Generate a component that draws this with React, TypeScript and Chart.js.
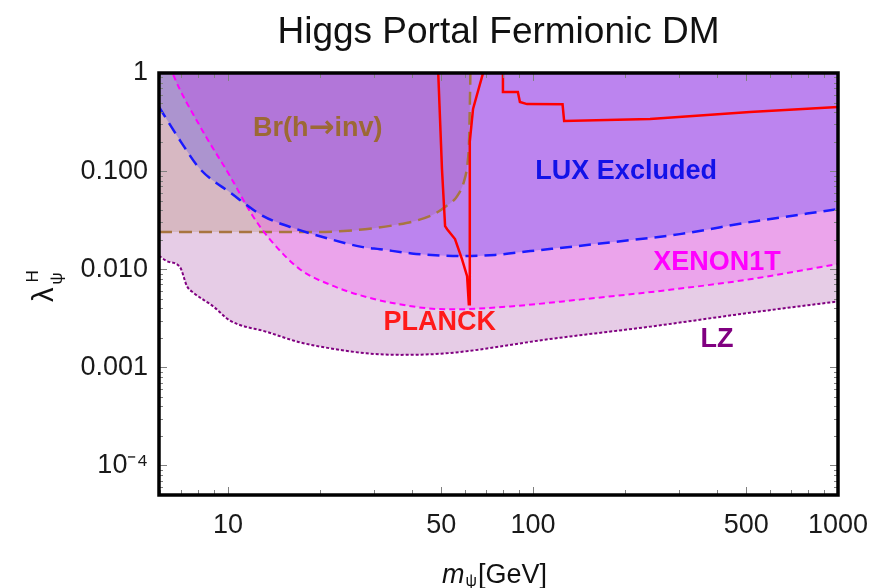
import React, { useEffect, useRef } from 'react';
import { Chart, registerables } from 'chart.js';

Chart.register(...registerables);

// ---- data ----
const luxMass = [5.94, 7, 8.1, 10.2, 13, 16.8, 21.6, 27.7, 31.5, 40, 50, 59, 75, 98, 183, 303, 514, 1000];
const luxLambda = [0.45, 0.2, 0.105, 0.06, 0.035, 0.0256, 0.0203, 0.0168, 0.016, 0.0145, 0.0138, 0.0136, 0.014, 0.0153, 0.0189, 0.0228, 0.0302, 0.041];

const xenonMass = [6.3, 6.6, 8.09, 10.15, 12.07, 13.7, 17.2, 22, 28.5, 35, 45, 55, 86, 142, 285, 514, 1000];
const xenonLambda = [1.5, 0.977, 0.287, 0.089, 0.0347, 0.0203, 0.01, 0.0068, 0.0052, 0.0045, 0.004, 0.0039, 0.0042, 0.0049, 0.0062, 0.0079, 0.0113];

const lzMass = [5.94, 6.3, 6.96, 7.34, 7.68, 8.93, 10.15, 13.4, 17.2, 22, 28.5, 36.6, 53.4, 113, 242, 514, 1000];
const lzLambda = [0.0137, 0.0121, 0.0105, 0.0067, 0.0058, 0.0042, 0.003, 0.0023, 0.0018, 0.00155, 0.00139, 0.00134, 0.0014, 0.00194, 0.0026, 0.0036, 0.0047];

const brMass = [5.94, 18, 24, 30, 36, 41, 47, 52, 56.5, 59.5, 61, 61.7, 62.1, 62.4];
const brLambda = [0.0239, 0.0239, 0.0245, 0.0262, 0.0285, 0.031, 0.036, 0.044, 0.056, 0.08, 0.12, 0.2, 0.5, 1.2];

const planckMass = [48.3, 48.9, 50.3, 51.5, 52.3, 55.5, 58.5, 60.8, 61.6, 62.0, 62.0, 62.1, 63.6, 65.9, 68.6, 72, 79.7, 79.7, 89.2, 90.6, 95.6, 125, 126.5, 242, 514, 1000];
const planckLambda = [3, 1.0, 0.105, 0.0275, 0.0256, 0.0203, 0.0127, 0.0085, 0.0044, 0.0044, 0.06, 0.2, 0.43, 0.64, 1.0, 3, 3, 0.64, 0.64, 0.506, 0.482, 0.48, 0.324, 0.339, 0.4, 0.45];

const xTickValues = [10, 50, 100, 500, 1000];
const xTickLabels = ['10', '50', '100', '500', '1000'];
const xMinorTicks = [6, 7, 8, 9, 20, 30, 40, 60, 70, 80, 90, 200, 300, 400, 600, 700, 800, 900];
const yTickValues = [0.0001, 0.001, 0.01, 0.1, 1];
const yTickLabels = ['10\u207B\u2074', '0.001', '0.010', '0.100', '1'];
const yMinorTicks = [
  0.0002, 0.0003, 0.0004, 0.0005, 0.0006, 0.0007, 0.0008, 0.0009,
  0.002, 0.003, 0.004, 0.005, 0.006, 0.007, 0.008, 0.009,
  0.02, 0.03, 0.04, 0.05, 0.06, 0.07, 0.08, 0.09,
  0.2, 0.3, 0.4, 0.5, 0.6, 0.7, 0.8, 0.9,
  0.00006, 0.00007, 0.00008, 0.00009,
];

const labelTexts = ['Br(h\u2192inv)', 'LUX Excluded', 'XENON1T', 'PLANCK', 'LZ'];
const labelMass = [19.7, 202, 401, 49.5, 401];
const labelLambda = [0.281, 0.102, 0.0121, 0.00295, 0.00198];
const labelColors = ['#9c6935', '#1212e8', '#ff00ff', '#ff1a1a', '#800080'];

const titleText = 'Higgs Portal Fermionic DM';

const FONT = '"Liberation Sans", Arial, Helvetica, sans-serif';
const ARROW_FONT = '"DejaVu Sans", "Liberation Sans", sans-serif';

const zip = (xs: number[], ys: number[]) => xs.map((x, i) => ({ x, y: ys[i] }));

const drawMixedLabel = (ctx: any, text: string, cx: number, cy: number) => {
  // text centred at (cx, cy); an arrow glyph is drawn in a font with a heavier arrow
  const parts = text.split('\u2192');
  const bold = `bold 27px ${FONT}`;
  const arrowFont = `bold 31px ${ARROW_FONT}`;
  const baseline = cy + 9;
  ctx.textBaseline = 'alphabetic';
  ctx.font = bold;
  const w0 = ctx.measureText(parts[0]).width;
  const w2 = parts.length > 1 ? ctx.measureText(parts[1]).width : 0;
  ctx.font = arrowFont;
  const wa = parts.length > 1 ? ctx.measureText('\u2192').width : 0;
  let x = cx - (w0 + wa + w2) / 2;
  ctx.textAlign = 'left';
  ctx.font = bold;
  ctx.fillText(parts[0], x, baseline);
  x += w0;
  if (parts.length > 1) {
    ctx.font = arrowFont;
    ctx.fillText('\u2192', x, baseline + 1);
    x += wa;
    ctx.font = bold;
    ctx.fillText(parts[1], x, baseline);
  }
};

const decorPlugin = {
  id: 'decor',
  afterDatasetsDraw(chart: any) {
    const { ctx, chartArea: ca, scales } = chart;
    const xs = scales.x;
    const ys = scales.y;
    ctx.save();

    // region labels
    labelTexts.forEach((t, i) => {
      ctx.fillStyle = labelColors[i];
      drawMixedLabel(ctx, t, xs.getPixelForValue(labelMass[i]), ys.getPixelForValue(labelLambda[i]));
    });

    // inward ticks on all four sides
    ctx.strokeStyle = '#808080';
    ctx.lineWidth = 1;
    const tick = (x1: number, y1: number, x2: number, y2: number) => {
      ctx.beginPath();
      ctx.moveTo(x1, y1);
      ctx.lineTo(x2, y2);
      ctx.stroke();
    };
    xTickValues.forEach((v) => {
      const p = Math.round(xs.getPixelForValue(v)) + 0.5;
      tick(p, ca.bottom, p, ca.bottom - 8);
      tick(p, ca.top, p, ca.top + 8);
    });
    xMinorTicks.forEach((v) => {
      const p = Math.round(xs.getPixelForValue(v)) + 0.5;
      tick(p, ca.bottom, p, ca.bottom - 5);
      tick(p, ca.top, p, ca.top + 5);
    });
    yTickValues.forEach((v) => {
      const p = Math.round(ys.getPixelForValue(v)) + 0.5;
      tick(ca.left, p, ca.left + 8, p);
      tick(ca.right, p, ca.right - 8, p);
    });
    yMinorTicks.forEach((v) => {
      const p = Math.round(ys.getPixelForValue(v)) + 0.5;
      tick(ca.left, p, ca.left + 4, p);
      tick(ca.right, p, ca.right - 4, p);
    });

    // frame
    ctx.strokeStyle = '#000';
    ctx.lineWidth = 3.5;
    ctx.strokeRect(ca.left, ca.top, ca.right - ca.left, ca.bottom - ca.top);

    // title
    ctx.fillStyle = '#111';
    ctx.textAlign = 'center';
    ctx.textBaseline = 'alphabetic';
    ctx.font = `37px ${FONT}`;
    ctx.fillText(titleText, (ca.left + ca.right) / 2, 43);

    // x axis title: m_psi [GeV]
    ctx.textAlign = 'left';
    let x = 442;
    ctx.font = `italic 27px ${FONT}`;
    ctx.fillText('m', x, 583);
    x += ctx.measureText('m').width + 1;
    ctx.font = `16px ${FONT}`;
    ctx.fillText('\u03C8', x, 586);
    x += ctx.measureText('\u03C8').width + 1;
    ctx.font = `27px ${FONT}`;
    ctx.fillText('[GeV]', x, 583);

    // y axis title: lambda_psi^H (rotated)
    ctx.save();
    ctx.translate(53, 302);
    ctx.rotate(-Math.PI / 2);
    ctx.font = `29px ${FONT}`;
    ctx.fillText('\u03BB', 0, 0);
    const w = ctx.measureText('\u03BB').width;
    ctx.font = `17px ${FONT}`;
    ctx.fillText('H', w + 5, -15);
    ctx.fillText('\u03C8', w + 3, 9);
    ctx.restore();

    ctx.restore();
  },
};

export default function App() {
  const canvasRef = useRef<HTMLCanvasElement | null>(null);

  useEffect(() => {
    const canvas = canvasRef.current;
    if (!canvas) return;
    const tickFont = { family: FONT, size: 27 };
    const chart = new Chart(canvas, {
      type: 'line',
      data: {
        datasets: [
          {
            label: 'PLANCK',
            data: zip(planckMass, planckLambda),
            borderColor: '#ff0000',
            borderWidth: 2.5,
            fill: false,
            tension: 0,
          },
          {
            label: 'LUX',
            data: zip(luxMass, luxLambda),
            borderColor: '#1a1aff',
            borderWidth: 2.5,
            borderDash: [12, 7],
            fill: 'end',
            backgroundColor: 'rgba(0,0,255,0.2)',
            cubicInterpolationMode: 'monotone',
          },
          {
            label: 'XENON1T',
            data: zip(xenonMass, xenonLambda),
            borderColor: '#ff00ff',
            borderWidth: 2,
            borderDash: [6, 4],
            fill: 'end',
            backgroundColor: 'rgba(255,0,255,0.2)',
            cubicInterpolationMode: 'monotone',
          },
          {
            label: 'Br',
            data: zip(brMass, brLambda),
            borderColor: '#a87540',
            borderWidth: 2.5,
            borderDash: [13, 7],
            fill: 'end',
            backgroundColor: 'rgba(153,102,51,0.2)',
            cubicInterpolationMode: 'monotone',
          },
          {
            label: 'LZ',
            data: zip(lzMass, lzLambda),
            borderColor: '#800080',
            borderWidth: 2,
            borderDash: [3, 2],
            fill: 'end',
            backgroundColor: 'rgba(128,0,128,0.2)',
            cubicInterpolationMode: 'monotone',
          },
        ],
      },
      options: {
        animation: false,
        responsive: false,
        events: [],
        layout: { padding: { top: 73, right: 36, left: 0, bottom: 0 } },
        elements: { point: { radius: 0 } },
        plugins: {
          legend: { display: false },
          tooltip: { enabled: false },
          filler: { drawTime: 'beforeDatasetsDraw', propagate: false },
        },
        scales: {
          x: {
            type: 'logarithmic',
            min: 5.94,
            max: 1000,
            grid: { display: false, drawTicks: false },
            border: { display: false },
            afterBuildTicks: (s: any) => {
              s.ticks = xTickValues.map((v) => ({ value: v }));
            },
            afterFit: (s: any) => {
              s.height = 93;
              s.paddingLeft = 0;
              s.paddingRight = 0;
            },
            ticks: {
              autoSkip: false,
              maxRotation: 0,
              padding: 14,
              color: '#1a1a1a',
              font: tickFont,
              callback: (v: any, i: number) => xTickLabels[i] ?? '',
            },
          },
          y: {
            type: 'logarithmic',
            min: 0.00005,
            max: 1,
            grid: { display: false, drawTicks: false },
            border: { display: false },
            afterBuildTicks: (s: any) => {
              s.ticks = yTickValues.map((v) => ({ value: v }));
            },
            afterFit: (s: any) => {
              s.width = 159;
              s.paddingTop = 0;
              s.paddingBottom = 0;
            },
            ticks: {
              autoSkip: false,
              padding: 11,
              color: '#1a1a1a',
              font: tickFont,
              callback: (v: any, i: number) => yTickLabels[i] ?? '',
            },
          },
        },
      } as any,
      plugins: [decorPlugin],
    });
    return () => chart.destroy();
  }, []);

  return (
    <div style={{ position: 'fixed', left: 0, top: 0, width: 874, height: 588, background: '#fff' }}>
      <canvas ref={canvasRef} width={874} height={588} />
    </div>
  );
}
